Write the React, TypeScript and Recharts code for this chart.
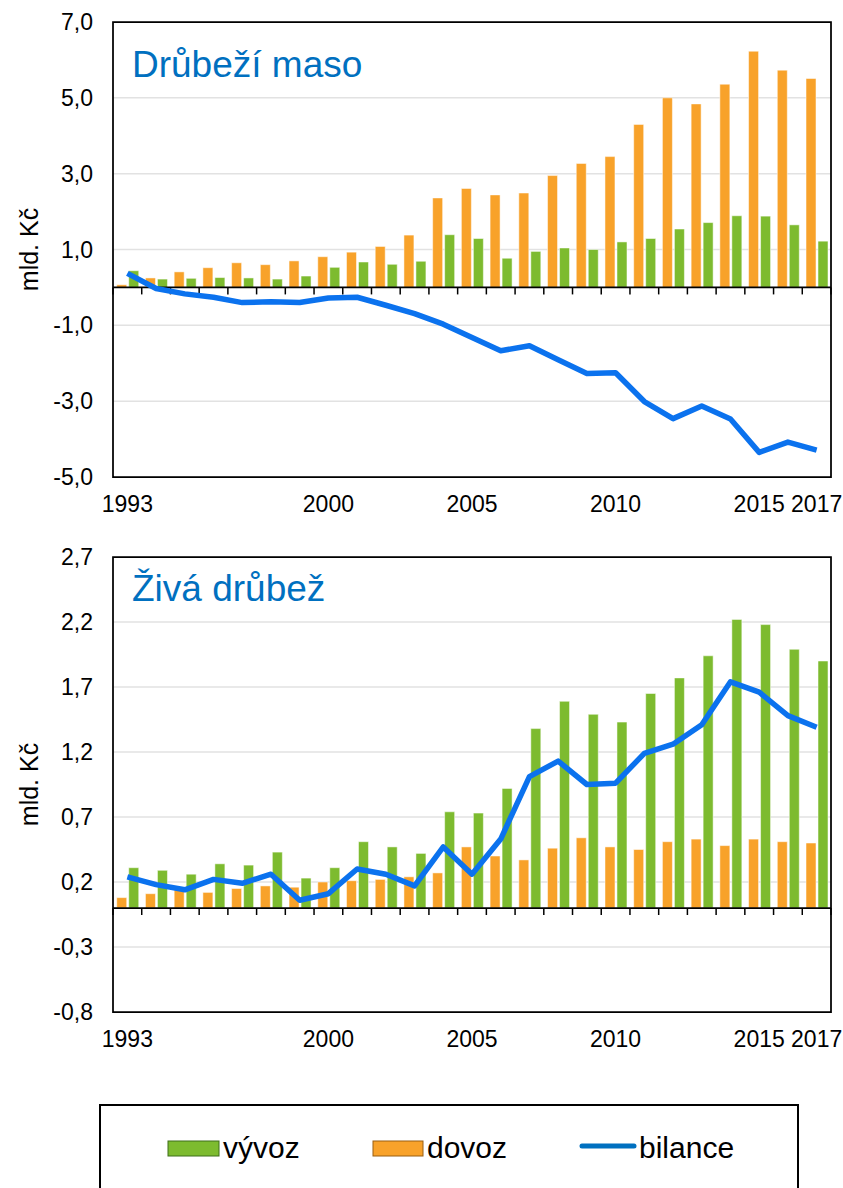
import React from 'react';
import { ComposedChart, Bar, Line, XAxis, YAxis, CartesianGrid, ReferenceLine, ReferenceArea } from 'recharts';

const years = [1993, 1994, 1995, 1996, 1997, 1998, 1999, 2000, 2001, 2002, 2003, 2004, 2005, 2006, 2007, 2008, 2009, 2010, 2011, 2012, 2013, 2014, 2015, 2016, 2017];
const labelYears = [1993, 2000, 2005, 2010, 2015, 2017];

// Drůbeží maso (mld. Kč)
const masoDovoz = [0.07, 0.25, 0.41, 0.52, 0.65, 0.6, 0.7, 0.81, 0.93, 1.08, 1.38, 2.36, 2.61, 2.44, 2.49, 2.95, 3.27, 3.45, 4.3, 5.0, 4.84, 5.36, 6.23, 5.73, 5.51];
const masoVyvoz = [0.44, 0.22, 0.24, 0.26, 0.25, 0.22, 0.3, 0.53, 0.67, 0.61, 0.69, 1.39, 1.29, 0.77, 0.95, 1.04, 1.0, 1.2, 1.29, 1.54, 1.71, 1.89, 1.88, 1.65, 1.22];
const masoBilance = [0.37, -0.03, -0.17, -0.26, -0.4, -0.38, -0.4, -0.28, -0.26, -0.47, -0.69, -0.97, -1.32, -1.67, -1.54, -1.91, -2.27, -2.25, -3.01, -3.46, -3.13, -3.47, -4.35, -4.08, -4.29];
const masoTicks = [-5, -3, -1, 1, 3, 5, 7];

// Živá drůbež (mld. Kč)
const zivaDovoz = [0.08, 0.11, 0.14, 0.12, 0.15, 0.17, 0.16, 0.2, 0.21, 0.22, 0.24, 0.27, 0.47, 0.4, 0.37, 0.46, 0.54, 0.47, 0.45, 0.51, 0.53, 0.48, 0.53, 0.51, 0.5];
const zivaVyvoz = [0.31, 0.29, 0.26, 0.34, 0.33, 0.43, 0.23, 0.31, 0.51, 0.47, 0.42, 0.74, 0.73, 0.92, 1.38, 1.59, 1.49, 1.43, 1.65, 1.77, 1.94, 2.22, 2.18, 1.99, 1.9];
const zivaBilance = [0.24, 0.18, 0.14, 0.22, 0.19, 0.26, 0.06, 0.11, 0.3, 0.26, 0.17, 0.47, 0.26, 0.53, 1.01, 1.13, 0.95, 0.96, 1.19, 1.26, 1.41, 1.74, 1.66, 1.48, 1.39];
const zivaTicks = [-0.8, -0.3, 0.2, 0.7, 1.2, 1.7, 2.2, 2.7];

const GREEN = '#7DBB2F';
const ORANGE = '#F8A22A';
const BLUE = '#0B72EE';
const FONT = '"Liberation Sans", Arial, sans-serif';

const fmt = (v: number) => v.toFixed(1).replace('.', ',');

// zero line with small tick marks between the categories
const zeroLine = (n: number) => (props: any) => {
  const { x1, x2, y1 } = props;
  const step = (x2 - x1) / n;
  const marks = [];
  for (let i = 0; i <= n; i++) {
    const x = x1 + step * i;
    marks.push(<line key={i} x1={x} x2={x} y1={y1} y2={y1 + 7} stroke="#000" strokeWidth={1.5} />);
  }
  return (
    <g>
      <line x1={x1} x2={x2} y1={y1} y2={y1} stroke="#000" strokeWidth={1.75} />
      {marks}
    </g>
  );
};

const yLabel = ({ viewBox }: any) => {
  const cy = viewBox.y + viewBox.height / 2;
  return (
    <text x={29} y={cy} transform={`rotate(-90, 29, ${cy})`} textAnchor="middle" dominantBaseline="central"
      fontFamily={FONT} fontSize={25} fill="#000">mld. Kč</text>
  );
};

interface PanelProps {
  dovoz: number[];
  vyvoz: number[];
  bilance: number[];
  ticks: number[];
}

const Panel: React.FC<PanelProps> = ({ dovoz, vyvoz, bilance, ticks }) => {
  const data = years.map((year, i) => ({ year, dovoz: dovoz[i], vyvoz: vyvoz[i], bilance: bilance[i] }));
  const lo = ticks[0];
  const hi = ticks[ticks.length - 1];
  return (
    <ComposedChart width={843} height={530} data={data} margin={{ top: 22, right: 12, bottom: 13, left: 0 }}
      barCategoryGap="13%" barGap={2}>
      <CartesianGrid vertical={false} stroke="#e2e2e2" strokeWidth={1.5} />
      <XAxis dataKey="year" interval={0} height={40} axisLine={false} tickLine={false} tickSize={6} tickMargin={13}
        tickFormatter={(y: number) => (labelYears.includes(y) ? String(y) : '')}
        tick={{ fontFamily: FONT, fontSize: 23, fill: '#000' }} />
      <YAxis type="number" domain={[lo, hi]} ticks={ticks} interval={0} width={113} axisLine={false} tickLine={false}
        tickSize={6} tickMargin={14} tickFormatter={fmt} allowDataOverflow
        tick={{ fontFamily: FONT, fontSize: 23, fill: '#000' }} label={{ content: yLabel }} />
      <Bar dataKey="dovoz" fill={ORANGE} stroke="#fff" strokeOpacity={0.5} strokeWidth={1} isAnimationActive={false} />
      <Bar dataKey="vyvoz" fill={GREEN} stroke="#fff" strokeOpacity={0.5} strokeWidth={1} isAnimationActive={false} />
      <ReferenceLine y={0} shape={zeroLine(years.length)} />
      <Line type="linear" dataKey="bilance" stroke={BLUE} strokeWidth={5.5} dot={false} activeDot={false}
        strokeLinejoin="round" isAnimationActive={false} />
      <ReferenceArea y1={lo} y2={hi} fill="none" fillOpacity={0} stroke="#000" strokeWidth={1.75} />
    </ComposedChart>
  );
};

const titleStyle: React.CSSProperties = {
  position: 'absolute',
  left: 132,
  fontFamily: FONT,
  fontSize: 37,
  lineHeight: '37px',
  color: '#0070C0',
  whiteSpace: 'nowrap',
};

const Legend: React.FC = () => (
  <svg width={843} height={90} style={{ position: 'absolute', left: 0, top: 1100 }}>
    <rect x={100} y={5} width={698} height={120} fill="none" stroke="#000" strokeWidth={2} />
    <rect x={168} y={41} width={51} height={15} fill={GREEN} stroke="#3F6E1A" strokeWidth={1} />
    <text x={223} y={58} fontFamily={FONT} fontSize={30} fill="#000">vývoz</text>
    <rect x={373} y={41} width={50} height={15} fill={ORANGE} stroke="#9A5E10" strokeWidth={1} />
    <text x={427} y={58} fontFamily={FONT} fontSize={30} fill="#000">dovoz</text>
    <line x1={582} x2={634} y1={46} y2={46} stroke="#0070C0" strokeWidth={5} strokeLinecap="round" />
    <text x={639} y={58} fontFamily={FONT} fontSize={30} fill="#000">bilance</text>
  </svg>
);

export default function App() {
  return (
    <div style={{ position: 'absolute', left: 0, top: 0, width: 843, height: 1188, background: '#fff', overflow: 'hidden' }}>
      <div style={{ position: 'absolute', left: 0, top: 0 }}>
        <Panel dovoz={masoDovoz} vyvoz={masoVyvoz} bilance={masoBilance} ticks={masoTicks} />
      </div>
      <div style={{ position: 'absolute', left: 0, top: 535 }}>
        <Panel dovoz={zivaDovoz} vyvoz={zivaVyvoz} bilance={zivaBilance} ticks={zivaTicks} />
      </div>
      <div style={{ ...titleStyle, top: 46 }}>Drůbeží maso</div>
      <div style={{ ...titleStyle, top: 570 }}>Živá drůbež</div>
      <Legend />
    </div>
  );
}
